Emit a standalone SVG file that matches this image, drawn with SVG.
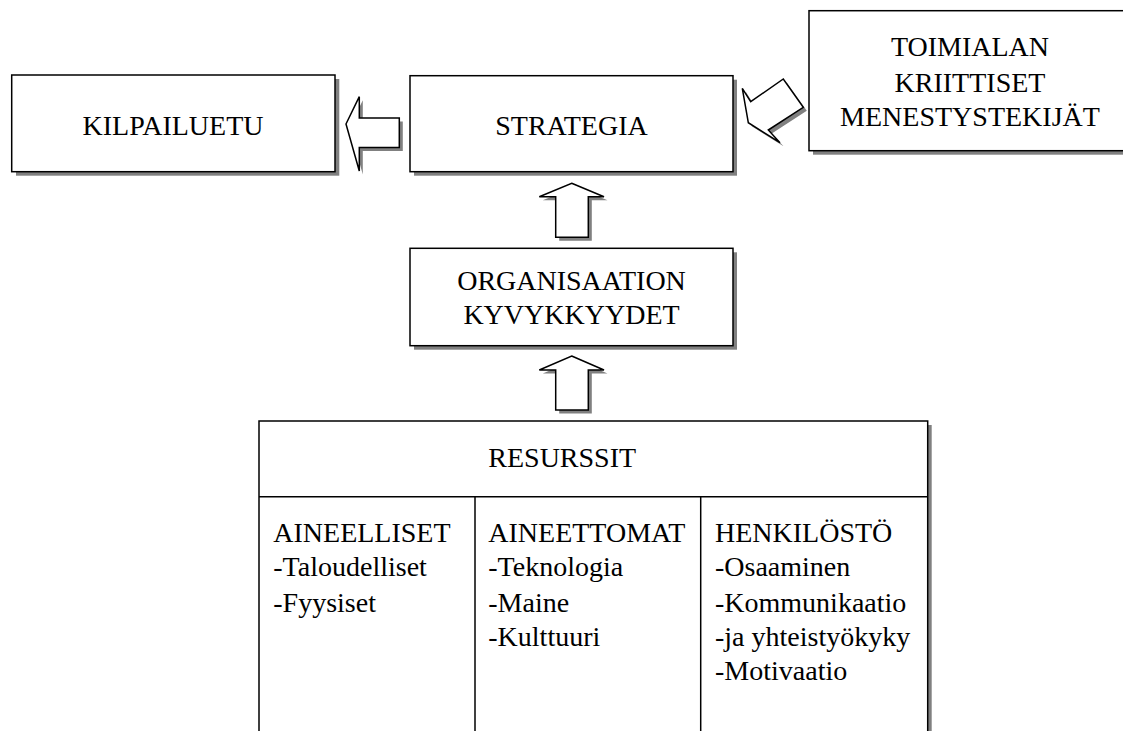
<svg xmlns="http://www.w3.org/2000/svg" width="1123" height="731" viewBox="0 0 1123 731">
<style>
.bg{fill:#fff}
.sh{fill:#808080;stroke:none}
.box{fill:#fff;stroke:#000;stroke-width:1.5}
.ln{stroke:#000;stroke-width:1.5;fill:none}
text{font-family:"Liberation Serif","Times New Roman",serif;font-size:28px;fill:#000}
.c{text-anchor:middle}
</style>
<rect class="bg" x="0" y="0" width="1123" height="731"/>
<g id="kilpailuetu">
<rect class="sh" x="16" y="79" width="323.3" height="96.7"/>
<rect class="box" x="11.7" y="75" width="323.3" height="96.7"/>
<text class="c" x="173" y="135">KILPAILUETU</text>
</g>
<g id="strategia">
<rect class="sh" x="414" y="79.7" width="323" height="96"/>
<rect class="box" x="410" y="75.7" width="323" height="96"/>
<text class="c" x="571.5" y="135">STRATEGIA</text>
</g>
<g id="toimialan">
<rect class="sh" x="813" y="14.7" width="330" height="140"/>
<rect class="box" x="809" y="10.7" width="322" height="140"/>
<text class="c" x="970" y="56">TOIMIALAN</text>
<text class="c" x="970" y="91.7">KRIITTISET</text>
<text class="c" x="970" y="126">MENESTYSTEKIJÄT</text>
</g>
<g id="organisaation">
<rect class="sh" x="414" y="252.3" width="323" height="97.4"/>
<rect class="box" x="410" y="248.3" width="323" height="97.4"/>
<text class="c" x="571.5" y="290">ORGANISAATION</text>
<text class="c" x="571.5" y="324">KYVYKKYYDET</text>
</g>
<g id="resurssit">
<rect class="sh" x="263" y="425" width="668.7" height="320"/>
<rect class="box" x="259" y="421" width="668.7" height="320"/>
<line class="ln" x1="259" y1="496.7" x2="927.7" y2="496.7"/>
<line class="ln" x1="475" y1="496.7" x2="475" y2="741"/>
<line class="ln" x1="700.7" y1="496.7" x2="700.7" y2="741"/>
<text x="488.3" y="466.7">RESURSSIT</text>
<text x="273.3" y="541.7">AINEELLISET</text>
<text x="273.3" y="576.2">-Taloudelliset</text>
<text x="273.3" y="611.7">-Fyysiset</text>
<text x="488.3" y="541.7">AINEETTOMAT</text>
<text x="488.3" y="576.2">-Teknologia</text>
<text x="488.3" y="611.7">-Maine</text>
<text x="488.3" y="645.5">-Kulttuuri</text>
<text x="715" y="541.7">HENKILÖSTÖ</text>
<text x="715" y="576.2">-Osaaminen</text>
<text x="715" y="611.7">-Kommunikaatio</text>
<text x="715" y="645.5">-ja yhteistyökyky</text>
<text x="715" y="680">-Motivaatio</text>
</g>
<g id="connectors">
<g transform="translate(3.5,3.5)" class="sh">
<polygon points="346,124 359.3,96.7 359.3,118 399.3,118 399.3,147.5 359.3,147.5 359.3,171"/>
<polygon points="748.3,122.7 742.3,88.3 750.7,101.7 783.3,79 803.3,107.3 768.3,130 780,142.7"/>
<polygon points="571.7,183.3 604,196.7 588.3,196.7 588.3,237.3 555.7,237.3 555.7,196.7 539.3,196.7"/>
<polygon points="571.7,356 604,370 588.3,370 588.3,410 555.7,410 555.7,370 539.3,370"/>
</g>
<polygon class="box" points="346,124 359.3,96.7 359.3,118 399.3,118 399.3,147.5 359.3,147.5 359.3,171"/>
<polygon class="box" points="748.3,122.7 742.3,88.3 750.7,101.7 783.3,79 803.3,107.3 768.3,130 780,142.7"/>
<polygon class="box" points="571.7,183.3 604,196.7 588.3,196.7 588.3,237.3 555.7,237.3 555.7,196.7 539.3,196.7"/>
<polygon class="box" points="571.7,356 604,370 588.3,370 588.3,410 555.7,410 555.7,370 539.3,370"/>
</g>
</svg>
